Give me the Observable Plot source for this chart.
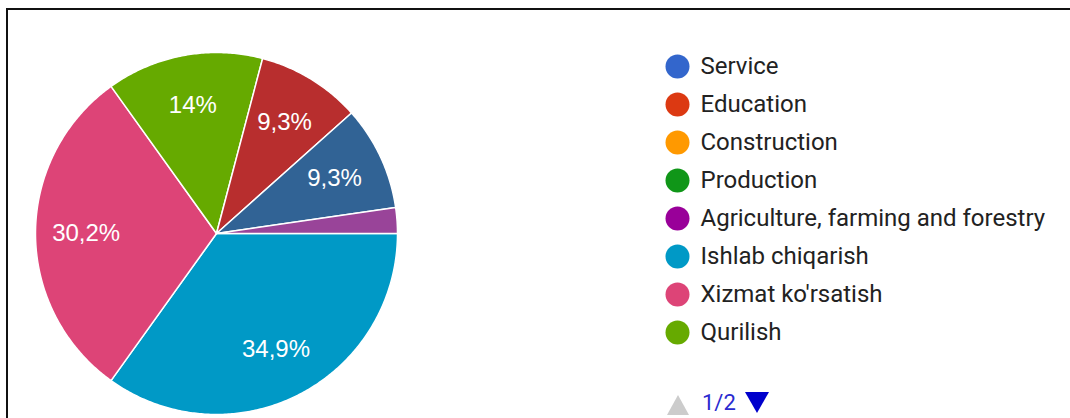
<!DOCTYPE html>
<html><head><meta charset="utf-8">
<script src="https://cdn.jsdelivr.net/npm/d3@7"></script>
<script src="https://cdn.jsdelivr.net/npm/@observablehq/plot@0.6"></script>
<style>
html,body{margin:0;padding:0;background:#fff;width:1070px;height:418px;overflow:hidden;}
#frame{position:absolute;left:6px;top:8px;width:1070px;height:420px;border-top:2px solid #111;border-left:2px solid #111;box-sizing:border-box;}
#pie{position:absolute;left:0;top:0;}
#legend{position:absolute;left:650px;top:0;}
#pager{position:absolute;left:667px;top:388px;height:30px;font-family:Roboto,sans-serif;}
#up{position:absolute;left:0;top:7px;width:0;height:0;border-left:11px solid transparent;border-right:11px solid transparent;border-bottom:20px solid #cccccc;}
#pg{position:absolute;left:35px;top:2px;font-size:22px;color:#2a2ad0;line-height:26px;}
#down{position:absolute;left:78px;top:4px;width:0;height:0;border-left:12px solid transparent;border-right:12px solid transparent;border-top:21px solid #0000cc;}
</style></head><body>
<div id="frame"></div>
<div id="pie"></div>
<div id="legend"></div>
<div id="pager"><div id="up"></div><div id="pg">1/2</div><div id="down"></div></div>
<script>
// Legend entries shown on page 1 of the legend
const legendNames = ["Service","Education","Construction","Production","Agriculture, farming and forestry","Ishlab chiqarish","Xizmat ko'rsatish","Qurilish"];
// Entries on legend page 2 (not visible)
const hiddenNames = ["Item 9","Item 10","Item 11"];
// Slices in clockwise order starting at 3 o'clock
const sliceNames = ["Ishlab chiqarish","Xizmat ko'rsatish","Qurilish","Item 9","Item 10","Item 11"];
const slicePct = [34.9, 30.2, 14, 9.3, 9.3, 2.3];
const palette = ["#3366cc","#dc3912","#ff9900","#109618","#990099","#0099c6","#dd4477","#66aa00","#b82e2e","#316395","#994499"];

const allNames = [...legendNames, ...hiddenNames];
const cx = 216, cy = 233, r = 181;

const arcs = d3.pie().sort(null).startAngle(Math.PI/2).endAngle(Math.PI/2 + 2*Math.PI)(slicePct);
const poly = [];
arcs.forEach((a, i) => {
  const name = sliceNames[i];
  poly.push({name, x: 0, y: 0});
  const n = Math.max(2, Math.ceil((a.endAngle - a.startAngle) / 0.01));
  for (let k = 0; k <= n; k++) {
    const t = a.startAngle + (a.endAngle - a.startAngle) * k / n;
    poly.push({name, x: Math.sin(t), y: Math.cos(t)});
  }
});
const fmt = p => (Math.round(p*10)/10).toString().replace(".", ",") + "%";
const labels = arcs.map((a, i) => {
  const m = (a.startAngle + a.endAngle) / 2;
  return {name: sliceNames[i], pct: slicePct[i], x: 0.72*Math.sin(m), y: 0.72*Math.cos(m)};
}).filter(d => d.pct >= 5);

const pie = Plot.plot({
  width: 440, height: 418, margin: 0,
  x: {domain: [-1, 1], range: [cx - r, cx + r], axis: null},
  y: {domain: [-1, 1], range: [cy + r, cy - r], axis: null},
  color: {domain: allNames, range: palette},
  style: {background: "transparent"},
  marks: [
    Plot.line(poly, {x: "x", y: "y", z: "name", fill: "name", stroke: "white", strokeWidth: 1.5, curve: "linear-closed"}),
    Plot.text(labels, {x: "x", y: "y", text: d => fmt(d.pct), fill: "white", fontSize: 24, fontFamily: "Liberation Sans, Arial, sans-serif"})
  ]
});
document.getElementById("pie").appendChild(pie);

const legend = Plot.plot({
  width: 420, height: 360, margin: 0,
  y: {type: "point", domain: legendNames, range: [63, 334], padding: 0, axis: null},
  color: {domain: allNames, range: palette},
  style: {background: "transparent"},
  marks: [
    Plot.dot(legendNames, {y: d => d, fill: d => d, r: 12, frameAnchor: "left", dx: 27}),
    Plot.text(legendNames, {y: d => d, text: d => d, frameAnchor: "left", dx: 50, textAnchor: "start", fill: "#222222", fontSize: 24, fontFamily: "Roboto, sans-serif"})
  ]
});
document.getElementById("legend").appendChild(legend);
</script>
</body></html>
